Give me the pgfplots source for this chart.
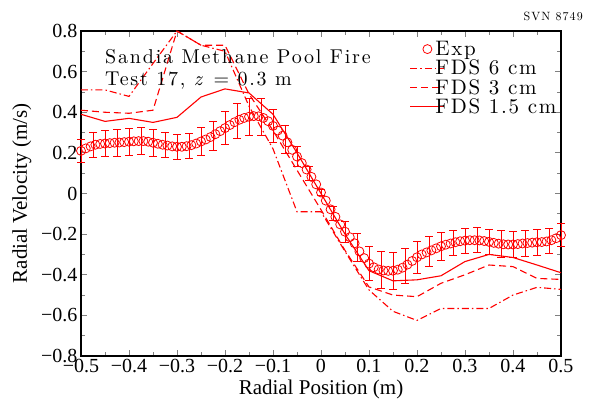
\documentclass[border=0pt]{standalone}
\usepackage{fontspec}
\usepackage{xcolor}
\usepackage{pgfplots}
\usepackage{pgfplotstable}
\pgfplotsset{compat=1.18}
\newfontfamily\tms{Liberation Serif}
\newfontfamily\lmsp{lmroman10-regular.otf}[LetterSpace=9, ItalicFont=lmroman10-italic.otf]
\newfontfamily\lmleg{lmroman10-regular.otf}[LetterSpace=8]

\pgfplotstableread{
x y
-0.50 0.210
-0.49 0.222
-0.48 0.232
-0.47 0.240
-0.46 0.244
-0.45 0.246
-0.44 0.248
-0.43 0.250
-0.42 0.251
-0.41 0.253
-0.40 0.255
-0.39 0.257
-0.38 0.258
-0.37 0.258
-0.36 0.255
-0.35 0.250
-0.34 0.245
-0.33 0.240
-0.32 0.236
-0.31 0.232
-0.30 0.230
-0.29 0.230
-0.28 0.233
-0.27 0.238
-0.26 0.246
-0.25 0.256
-0.24 0.266
-0.23 0.278
-0.22 0.292
-0.21 0.307
-0.20 0.322
-0.19 0.337
-0.18 0.351
-0.17 0.363
-0.16 0.372
-0.15 0.378
-0.14 0.381
-0.13 0.380
-0.12 0.372
-0.11 0.356
-0.10 0.333
-0.09 0.310
-0.08 0.285
-0.07 0.252
-0.06 0.215
-0.05 0.182
-0.04 0.150
-0.03 0.118
-0.02 0.082
-0.01 0.045
0.00 0.005
0.01 -0.035
0.02 -0.078
0.03 -0.115
0.04 -0.152
0.05 -0.188
0.06 -0.215
0.07 -0.245
0.08 -0.285
0.09 -0.318
0.10 -0.345
0.11 -0.363
0.12 -0.374
0.13 -0.379
0.14 -0.381
0.15 -0.380
0.16 -0.375
0.17 -0.365
0.18 -0.350
0.19 -0.332
0.20 -0.314
0.21 -0.300
0.22 -0.290
0.23 -0.280
0.24 -0.270
0.25 -0.260
0.26 -0.252
0.27 -0.246
0.28 -0.240
0.29 -0.235
0.30 -0.232
0.31 -0.230
0.32 -0.230
0.33 -0.231
0.34 -0.234
0.35 -0.238
0.36 -0.243
0.37 -0.247
0.38 -0.250
0.39 -0.251
0.40 -0.251
0.41 -0.249
0.42 -0.246
0.43 -0.244
0.44 -0.242
0.45 -0.240
0.46 -0.239
0.47 -0.236
0.48 -0.230
0.49 -0.220
0.50 -0.205
}\expdata

% error bar centres and half lengths
\pgfplotstableread{
x y e
-0.500 0.210 0.057
-0.475 0.240 0.063
-0.450 0.246 0.064
-0.425 0.250 0.065
-0.400 0.255 0.066
-0.375 0.258 0.067
-0.350 0.250 0.065
-0.325 0.240 0.063
-0.300 0.230 0.061
-0.275 0.235 0.062
-0.250 0.256 0.067
-0.225 0.285 0.072
-0.200 0.322 0.080
-0.175 0.357 0.087
-0.150 0.378 0.091
-0.125 0.376 0.090
-0.100 0.333 0.081
-0.075 0.268 0.069
-0.050 0.182 0.051
-0.025 0.100 0.035
0.000 0.005 0.016
0.025 -0.097 0.035
0.050 -0.188 0.053
0.075 -0.265 0.068
0.100 -0.345 0.085
0.125 -0.377 0.090
0.150 -0.380 0.091
0.175 -0.358 0.087
0.200 -0.314 0.077
0.225 -0.285 0.072
0.250 -0.260 0.067
0.275 -0.243 0.063
0.300 -0.232 0.061
0.325 -0.230 0.061
0.350 -0.238 0.063
0.375 -0.248 0.065
0.400 -0.251 0.065
0.425 -0.245 0.064
0.450 -0.240 0.063
0.475 -0.233 0.062
0.500 -0.205 0.056
}\ctrdata

% error bar ends (caps)
\pgfplotstableread{
x y
-0.500 0.153
-0.500 0.267
-0.475 0.177
-0.475 0.303
-0.450 0.182
-0.450 0.310
-0.425 0.185
-0.425 0.315
-0.400 0.189
-0.400 0.321
-0.375 0.191
-0.375 0.325
-0.350 0.185
-0.350 0.315
-0.325 0.177
-0.325 0.303
-0.300 0.169
-0.300 0.291
-0.275 0.173
-0.275 0.297
-0.250 0.189
-0.250 0.323
-0.225 0.213
-0.225 0.357
-0.200 0.242
-0.200 0.402
-0.175 0.270
-0.175 0.444
-0.150 0.287
-0.150 0.469
-0.125 0.286
-0.125 0.466
-0.100 0.252
-0.100 0.414
-0.075 0.199
-0.075 0.337
-0.050 0.131
-0.050 0.233
-0.025 0.065
-0.025 0.135
0.000 -0.011
0.000 0.021
0.025 -0.132
0.025 -0.062
0.050 -0.241
0.050 -0.135
0.075 -0.333
0.075 -0.197
0.100 -0.430
0.100 -0.260
0.125 -0.467
0.125 -0.287
0.150 -0.471
0.150 -0.289
0.175 -0.445
0.175 -0.271
0.200 -0.391
0.200 -0.237
0.225 -0.357
0.225 -0.213
0.250 -0.327
0.250 -0.193
0.275 -0.306
0.275 -0.180
0.300 -0.293
0.300 -0.171
0.325 -0.291
0.325 -0.169
0.350 -0.301
0.350 -0.175
0.375 -0.313
0.375 -0.183
0.400 -0.316
0.400 -0.186
0.425 -0.309
0.425 -0.181
0.450 -0.303
0.450 -0.177
0.475 -0.295
0.475 -0.171
0.500 -0.261
0.500 -0.149
}\errdata

\pgfplotstableread{
x y
-0.50 0.510
-0.45 0.510
-0.40 0.478
-0.35 0.640
-0.30 0.800
-0.25 0.730
-0.20 0.700
-0.15 0.430
-0.10 0.220
-0.05 -0.090
0.00 -0.090
0.05 -0.285
0.10 -0.475
0.15 -0.580
0.20 -0.625
0.25 -0.566
0.30 -0.566
0.35 -0.566
0.40 -0.500
0.45 -0.462
0.50 -0.472
}\fdssix

\pgfplotstableread{
x y
-0.50 0.410
-0.45 0.400
-0.40 0.395
-0.35 0.410
-0.30 0.800
-0.25 0.730
-0.20 0.730
-0.15 0.490
-0.10 0.310
-0.05 0.115
0.00 -0.080
0.05 -0.280
0.10 -0.460
0.15 -0.500
0.20 -0.508
0.25 -0.442
0.30 -0.400
0.35 -0.352
0.40 -0.360
0.45 -0.418
0.50 -0.423
}\fdsthree

\pgfplotstableread{
x y
-0.50 0.390
-0.45 0.355
-0.40 0.370
-0.35 0.350
-0.30 0.375
-0.25 0.475
-0.20 0.515
-0.15 0.495
-0.10 0.390
-0.05 0.200
0.00 0.000
0.05 -0.200
0.10 -0.380
0.15 -0.430
0.20 -0.425
0.25 -0.405
0.30 -0.335
0.35 -0.300
0.40 -0.315
0.45 -0.352
0.50 -0.390
}\fdsone

\begin{document}
\begin{tikzpicture}
\useasboundingbox (-81pt,-51pt) rectangle (508pt,356pt);
\begin{axis}[
  name=ax,
  at={(0,0)}, anchor=south west,
  scale only axis, width=480pt, height=325pt,
  xmin=-0.5, xmax=0.5, ymin=-0.8, ymax=0.8,
  xtick={-0.5,-0.4,-0.3,-0.2,-0.1,0,0.1,0.2,0.3,0.4,0.5},
  xticklabels={−0.5,−0.4,−0.3,−0.2,−0.1,0,0.1,0.2,0.3,0.4,0.5},
  minor xtick={-0.45,-0.35,-0.25,-0.15,-0.05,0.05,0.15,0.25,0.35,0.45},
  ytick={-0.8,-0.6,-0.4,-0.2,0,0.2,0.4,0.6,0.8},
  yticklabels={−0.8,−0.6,−0.4,−0.2,0,0.2,0.4,0.6,0.8},
  minor ytick={-0.7,-0.5,-0.3,-0.1,0.1,0.3,0.5,0.7},
  tick align=inside, major tick length=6pt, minor tick length=4pt,
  major tick style={line width=0.8pt},
  minor tick style={line width=0.8pt},
  axis line style={line width=1.3pt},
  ticklabel style={font=\tms\fontsize{20}{22}\selectfont},
  xlabel={Radial Position (m)}, ylabel={Radial Velocity (m/s)},
  label style={font=\tms\fontsize{21}{24}\selectfont},
  ylabel shift=3pt,
  clip=false,
  legend cell align=left,
  legend style={draw=none, fill=none, at={(rel axis cs:1.0,0.98)}, anchor=north east,
    font=\lmleg\fontsize{21}{22}\selectfont,
    nodes={inner sep=1.5pt}, row sep=0pt, column sep=-11pt},
  legend image code/.code={\draw[mark repeat=2,mark phase=2,#1] plot coordinates {(0pt,0pt) (17pt,0pt) (34pt,0pt)};},
]
\addplot[scatter, only marks, mark=|, forget plot,
  mark options={solid, line width=0.8pt},
  scatter/use mapped color={draw=red, fill=red},
  visualization depends on={\thisrow{e}*203.125 \as \perr},
  scatter/@pre marker code/.append style={/tikz/mark size=\perr}]
  table[x=x, y=y] {\ctrdata};
\addplot[red, only marks, mark=-, mark size=4pt, mark options={red, solid, line width=0.8pt}, forget plot] table[x=x, y=y] {\errdata};
\addplot[red, only marks, mark=o, mark size=4.5pt, mark options={line width=0.8pt, red}] table[x=x,y=y] {\expdata};
\addlegendentry{Exp}
\addplot[red, line width=1.1pt, dash pattern=on 7pt off 3pt on 1.5pt off 3pt] table[x=x,y=y] {\fdssix};
\addlegendentry{FDS 6 cm}
\addplot[red, line width=1.1pt, dash pattern=on 7pt off 4pt] table[x=x,y=y] {\fdsthree};
\addlegendentry{FDS 3 cm}
\addplot[red, line width=1.1pt] table[x=x,y=y] {\fdsone};
\addlegendentry{FDS 1.5 cm}
\node[anchor=base west, inner sep=0pt, font=\lmsp\fontsize{20}{22}\selectfont] at (axis cs:-0.45,0.641) {Sandia Methane Pool Fire};
\node[anchor=base west, inner sep=0pt, font=\lmsp\fontsize{20}{22}\selectfont] at (axis cs:-0.45,0.534) {Test 17, \textit{z} = 0.3 m};
\end{axis}
\node[anchor=east, inner sep=0pt, font=\lmsp\fontsize{12}{14}\selectfont] at ([xshift=22pt,yshift=15pt]ax.north east) {SVN 8749};
\end{tikzpicture}
\end{document}
